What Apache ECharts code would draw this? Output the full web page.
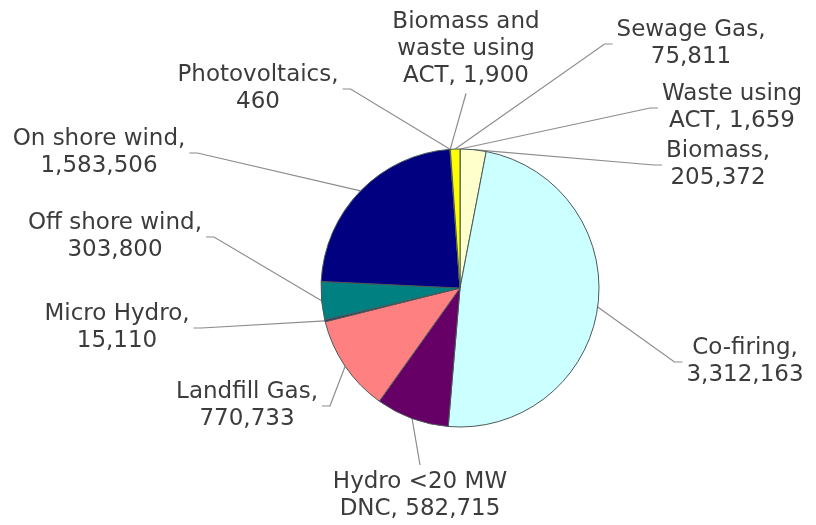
<!DOCTYPE html>
<html>
<head>
<meta charset="utf-8">
<script src="https://cdn.jsdelivr.net/npm/echarts@6/dist/echarts.min.js"></script>
<style>
  html, body { margin: 0; padding: 0; background: #fff; }
  #chart { width: 816px; height: 525px; }
</style>
</head>
<body>
<div id="chart"></div>
<script>
// Renewable generation by source, clockwise from 12 o'clock
const sources = [
  'Waste using ACT',
  'Biomass',
  'Co-firing',
  'Hydro <20 MW DNC',
  'Landfill Gas',
  'Micro Hydro',
  'Off shore wind',
  'On shore wind',
  'Photovoltaics',
  'Biomass and waste using ACT',
  'Sewage Gas'
];
const generation = [1659, 205372, 3312163, 582715, 770733, 15110, 303800, 1583506, 460, 1900, 75811];
const sliceColors = ['#9999ff', '#ffffcc', '#ccffff', '#660066', '#ff8080', '#333366',
                     '#008080', '#000080', '#ff00ff', '#993366', '#ffff00'];

// Label placement: block centre and the side the leader line attaches to
const labelSpots = [
  { x: 732, y: 108, side: 'left' },
  { x: 718, y: 165, side: 'left' },
  { x: 745, y: 362, side: 'left' },
  { x: 420, y: 496, side: 'top' },
  { x: 247, y: 406, side: 'right' },
  { x: 117, y: 328, side: 'right' },
  { x: 115, y: 237, side: 'right' },
  { x: 99,  y: 153, side: 'right' },
  { x: 258, y: 89,  side: 'right' },
  { x: 466, y: 49,  side: 'bottom' },
  { x: 691, y: 44,  side: 'left' }
];

function fmt(v) { return v.toLocaleString('en-US'); }

// Greedy word wrap of "name, value" to a maximum line length
function wrap(text, maxChars) {
  const words = text.split(' ');
  const lines = [];
  let cur = '';
  words.forEach(w => {
    if (cur && (cur + ' ' + w).length > maxChars) { lines.push(cur); cur = w; }
    else { cur = cur ? cur + ' ' + w : w; }
  });
  if (cur) lines.push(cur);
  return lines.join('\n');
}

const chart = echarts.init(document.getElementById('chart'), null, { renderer: 'canvas' });

chart.setOption({
  backgroundColor: '#ffffff',
  animation: false,
  series: [{
    type: 'pie',
    center: [460, 288],
    radius: 139,
    startAngle: 90,
    clockwise: true,
    avoidLabelOverlap: false,
    data: sources.map((name, i) => ({
      name, value: generation[i], itemStyle: { color: sliceColors[i] }
    })),
    itemStyle: { borderColor: '#4a5a5a', borderWidth: 1 },
    label: {
      show: true,
      formatter: p => wrap(p.name + ', ' + fmt(p.value), 15),
      fontFamily: 'DejaVu Sans',
      fontSize: 23,
      lineHeight: 27,
      color: '#3c3c3c',
      align: 'center'
    },
    labelLine: {
      show: true,
      length: 10,
      length2: 10,
      lineStyle: { color: '#8c8c8c', width: 1.2 }
    },
    emphasis: { disabled: true },
    labelLayout: function (params) {
      const spot = labelSpots[params.dataIndex];
      const w = params.labelRect.width, h = params.labelRect.height;
      const start = params.labelLinePoints ? params.labelLinePoints[0] : [460, 288];
      let end, elbow;
      if (spot.side === 'left') {
        end = [spot.x - w / 2 - 4, spot.y];
        elbow = [end[0] - 8, end[1]];
      } else if (spot.side === 'right') {
        end = [spot.x + w / 2 + 4, spot.y];
        elbow = [end[0] + 8, end[1]];
      } else if (spot.side === 'top') {
        end = [spot.x, spot.y - h / 2 - 4];
        elbow = [end[0], end[1]];
      } else {
        end = [spot.x, spot.y + h / 2 + 4];
        elbow = [end[0], end[1]];
      }
      return {
        x: spot.x,
        y: spot.y,
        align: 'center',
        verticalAlign: 'middle',
        labelLinePoints: [start, elbow, end]
      };
    }
  }]
});
</script>
</body>
</html>
